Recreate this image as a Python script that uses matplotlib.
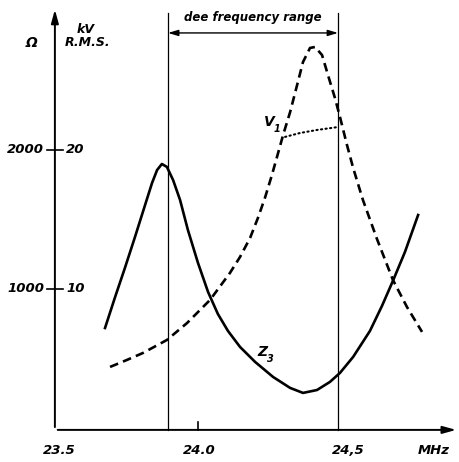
import matplotlib
matplotlib.use("Agg")
import matplotlib.pyplot as plt

# 数据 (MHz, Ω) —— 从图上读取
z3_f = [23.668, 23.704, 23.739, 23.775, 23.811, 23.836, 23.854, 23.871, 23.889,
        23.911, 23.936, 23.964, 24.0, 24.036, 24.071, 24.107, 24.15, 24.204,
        24.268, 24.329, 24.375, 24.425, 24.471, 24.507, 24.554, 24.614, 24.657,
        24.696, 24.739, 24.786]
z3_v = [719, 942, 1151, 1374, 1604, 1763, 1856, 1899, 1878,
        1784, 1640, 1424, 1187, 978, 820, 698, 583, 475,
        367, 288, 252, 273, 331, 396, 511, 698, 878,
        1058, 1266, 1532]

vs_f = [23.686, 23.746, 23.804, 23.889, 23.961, 24.043, 24.114, 24.15, 24.186,
        24.214, 24.239, 24.264, 24.286, 24.304, 24.329, 24.354, 24.375, 24.40,
        24.418, 24.443, 24.464, 24.489, 24.507, 24.532, 24.554, 24.589, 24.639,
        24.696, 24.746, 24.80]
vs_v = [439, 489, 540, 633, 755, 921, 1115, 1230, 1367,
        1511, 1655, 1820, 1978, 2108, 2273, 2468, 2633, 2734,
        2741, 2683, 2540, 2374, 2237, 2036, 1871, 1640, 1360,
        1065, 871, 691]

v1_f = [24.311, 24.364, 24.425, 24.50]
v1_v = [2094, 2122, 2144, 2165]

yticks = [1000, 2000]
yticklabels_l = ["1000", "2000"]
yticklabels_r = ["10", "20"]
xticks = [23.5, 24.0, 24.532]
xticklabels = ["23.5", "24.0", "24,5"]
dee_range = [23.893, 24.5]

fig = plt.figure(figsize=(4.59, 4.62), dpi=100)
ax = fig.add_axes([0, 0, 1, 1])
ax.set_xlim(23.293, 24.932)
ax.set_ylim(-245, 3079)
ax.axis("off")

font = dict(fontweight="bold", fontstyle="italic", family="DejaVu Sans")
x0 = 23.489   # y轴位置
y0 = -14      # x轴位置

# 坐标轴 (带箭头)
ax.annotate("", xy=(x0, 3030), xytext=(x0, y0),
            arrowprops=dict(arrowstyle="-|>,head_length=0.8,head_width=0.22", lw=1.4, color="black"))
ax.annotate("", xy=(24.932, y0), xytext=(x0, y0),
            arrowprops=dict(arrowstyle="-|>,head_length=0.8,head_width=0.22", lw=1.4, color="black"))

# y刻度
for t, l1, l2 in zip(yticks, yticklabels_l, yticklabels_r):
    ax.plot([23.46, 23.518], [t, t], color="black", lw=1.2)
    ax.text(23.45, t, l1, ha="right", va="center", fontsize=9.5, **font)
    ax.text(23.53, t, l2, ha="left", va="center", fontsize=9.5, **font)

# x刻度
ax.plot([24.0, 24.0], [y0, 45], color="black", lw=1.2)
for t, l in zip(xticks, xticklabels):
    ax.text(t + 0.005, -165, l, ha="center", va="center", fontsize=9.5, **font)
ax.text(24.843, -165, "MHz", ha="center", va="center", fontsize=9.5, **font)

ax.text(23.404, 2770, "Ω", ha="center", va="center", fontsize=10, **font)
ax.text(23.6, 2870, "kV", ha="center", va="center", fontsize=9, **font)
ax.text(23.605, 2770, "R.M.S.", ha="center", va="center", fontsize=9, **font)

# dee frequency range
for f in dee_range:
    ax.plot([f, f], [y0, 2985], color="black", lw=0.9)
ax.annotate("", xy=(dee_range[0], 2842), xytext=(dee_range[1], 2842),
            arrowprops=dict(arrowstyle="<|-|>,head_length=0.6,head_width=0.18", lw=1.0, color="black",
                            shrinkA=0, shrinkB=0))
ax.text((dee_range[0] + dee_range[1]) / 2, 2950, "dee frequency range",
        ha="center", va="center", fontsize=8.5, **font)

# 曲线
ax.plot(z3_f, z3_v, color="black", lw=1.9, solid_joinstyle="round")
ax.plot(vs_f, vs_v, color="black", lw=1.9, linestyle=(0, (3.3, 2.0)))
ax.plot(v1_f, v1_v, color="black", lw=1.5, linestyle=(0, (0.6, 1.6)), dash_capstyle="round")

ax.text(24.254, 2201, "V", ha="center", va="center", fontsize=10, **font)
ax.text(24.283, 2150, "1", ha="center", va="center", fontsize=7, **font)
ax.text(24.229, 547, "Z", ha="center", va="center", fontsize=10, **font)
ax.text(24.259, 495, "3", ha="center", va="center", fontsize=7, **font)

fig.savefig("out.png", dpi=100)
